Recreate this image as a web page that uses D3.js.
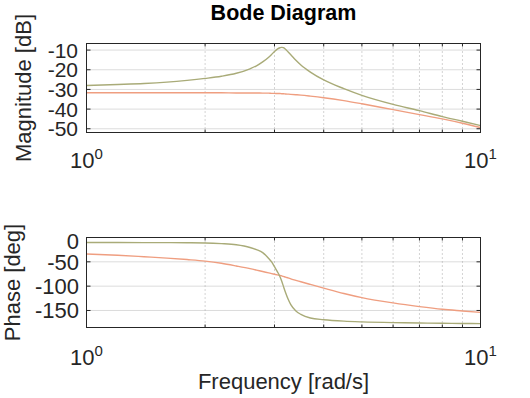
<!DOCTYPE html>
<html>
<head>
<meta charset="utf-8">
<script src="https://cdn.jsdelivr.net/npm/d3@7"></script>
<style>
  body { margin: 0; background: #fff; }
  text { font-family: "Liberation Sans", Arial, sans-serif; fill: #262626; }
</style>
</head>
<body>
<div id="d3-container"></div>
<script>
/**
 * DATA
 * */
const freq = [1, 1.2, 1.4, 1.6, 1.8, 2, 2.2, 2.4, 2.6, 2.7, 2.8, 2.9, 2.95, 3.0, 3.05, 3.1,
  3.13, 3.16, 3.2, 3.25, 3.3, 3.4, 3.5, 3.7, 4, 4.5, 5, 6, 7, 8, 9, 10];

// olive curve (resonant system)
const magOlive = [-28.0, -27.5, -27.0, -26.3, -25.4, -24.4, -23.3, -21.8, -19.5, -18.0, -16.0,
  -13.6, -12.2, -10.7, -9.5, -8.8, -8.6, -8.8, -9.6, -11.0, -12.4, -15.2, -17.6, -21.2, -25.2,
  -29.6, -33.0, -37.6, -40.8, -43.8, -46.2, -48.4];
const phaseOlive = [-10.3, -10.4, -10.5, -10.6, -10.8, -11.2, -12.6, -15.0, -20.5, -25.0, -31.0,
  -43, -50, -60, -70, -81, -90, -100, -113, -127, -138, -151, -158, -165.5, -169, -172, -173.5,
  -175, -175.7, -176.3, -176.7, -177];

// orange curve (damped system)
const magOrange = [-31.7, -31.7, -31.7, -31.7, -31.7, -31.7, -31.7, -31.8, -31.8, -31.8, -31.9,
  -31.9, -32.0, -32.0, -32.1, -32.1, -32.2, -32.2, -32.3, -32.4, -32.5, -32.7, -32.9, -33.4, -34.2,
  -35.7, -37.3, -40.3, -42.8, -45.0, -47.2, -49.4];
const phaseOrange = [-34, -36.5, -39.5, -42.3, -45.3, -48.5, -53, -58.5, -64, -67, -70, -72.8,
  -74.2, -75.5, -76.8, -78, -79, -80, -81.5, -83, -85, -88, -91, -96.5, -104, -115, -123.5,
  -134.5, -142, -147.5, -151, -154];

const magTicks = [-50, -40, -30, -20, -10];
const phaseTicks = [-150, -100, -50, 0];
const decadeTicks = [1, 10];
const minorTicks = [2, 3, 4, 5, 6, 7, 8, 9];

/**
 * CONSTANTS
 * */
const width = 530,
  height = 398,
  plotLeft = 86.5,
  plotRight = 480.5;

const colors = { olive: "#a9ab78", orange: "#ef9e80", axis: "#262626", grid: "#dcdcdc", minor: "#a8a8a8" };

const panels = [
  { top: 43.5, bottom: 132.5, domain: [-51.9, -6.65], ticks: magTicks, label: "Magnitude [dB]",
    labelX: 31, tickRight: 78, tickFont: 21, decadeY: 168, series: [magOrange, magOlive] },
  { top: 237.5, bottom: 327.5, domain: [-185, 0], ticks: phaseTicks, label: "Phase [deg]",
    labelX: 20, tickRight: 79, tickFont: 22, decadeY: 365, series: [phaseOrange, phaseOlive] },
];
const seriesColors = [colors.orange, colors.olive];

let svg;

init();

function init() {
  svg = d3.select("#d3-container")
    .append("svg")
    .attr("width", width)
    .attr("height", height);

  const x = d3.scaleLog().domain([1, 10]).range([plotLeft, plotRight]);

  panels.forEach(p => drawPanel(p, x));

  // title
  svg.append("text")
    .attr("x", (plotLeft + plotRight) / 2)
    .attr("y", 19.5)
    .attr("text-anchor", "middle")
    .attr("font-size", 21.5)
    .attr("font-weight", "bold")
    .style("fill", "#000")
    .text("Bode Diagram");

  // x label
  svg.append("text")
    .attr("x", (plotLeft + plotRight) / 2)
    .attr("y", 389)
    .attr("text-anchor", "middle")
    .attr("font-size", 22)
    .text("Frequency [rad/s]");
}

function drawPanel(p, x) {
  const y = d3.scaleLinear().domain(p.domain).range([p.bottom, p.top]);
  const g = svg.append("g");

  // horizontal grid (solid)
  g.selectAll("line.hgrid")
    .data(p.ticks.filter(t => Math.abs(y(t) - p.top) > 1 && Math.abs(y(t) - p.bottom) > 1))
    .join("line")
    .attr("class", "hgrid")
    .attr("x1", plotLeft).attr("x2", plotRight)
    .attr("y1", d => y(d)).attr("y2", d => y(d))
    .attr("stroke", colors.grid)
    .attr("stroke-width", 1);

  // vertical minor grid (dotted)
  g.selectAll("line.vgrid")
    .data(minorTicks)
    .join("line")
    .attr("class", "vgrid")
    .attr("x1", d => x(d)).attr("x2", d => x(d))
    .attr("y1", p.top).attr("y2", p.bottom)
    .attr("stroke", colors.minor)
    .attr("stroke-width", 1)
    .attr("stroke-dasharray", "1,3");

  // curves
  const line = d3.line()
    .x((d, i) => x(freq[i]))
    .y(d => y(d))
    .curve(d3.curveMonotoneX);

  g.selectAll("path.curve")
    .data(p.series)
    .join("path")
    .attr("class", "curve")
    .attr("fill", "none")
    .attr("stroke", (d, i) => seriesColors[i])
    .attr("stroke-width", 1.4)
    .attr("d", line);

  // y ticks, inward on both sides
  [plotLeft, plotRight].forEach((x0, k) => {
    const dir = k === 0 ? 1 : -1;
    g.selectAll(null)
      .data(p.ticks)
      .join("line")
      .attr("x1", x0).attr("x2", x0 + dir * 4)
      .attr("y1", d => y(d)).attr("y2", d => y(d))
      .attr("stroke", colors.axis);
  });

  // x minor ticks, inward top and bottom
  [p.top, p.bottom].forEach((y0, k) => {
    const dir = k === 0 ? 1 : -1;
    g.selectAll(null)
      .data(minorTicks)
      .join("line")
      .attr("x1", d => x(d)).attr("x2", d => x(d))
      .attr("y1", y0).attr("y2", y0 + dir * 3)
      .attr("stroke", colors.axis);
  });

  // box
  g.append("rect")
    .attr("x", plotLeft).attr("y", p.top)
    .attr("width", plotRight - plotLeft)
    .attr("height", p.bottom - p.top)
    .attr("fill", "none")
    .attr("stroke", colors.axis)
    .attr("stroke-width", 1);

  // y tick labels
  g.selectAll("text.ytick")
    .data(p.ticks)
    .join("text")
    .attr("class", "ytick")
    .attr("x", p.tickRight)
    .attr("y", d => Math.max(y(d), p.top + 4))
    .attr("text-anchor", "end")
    .attr("dy", "0.36em")
    .attr("font-size", p.tickFont)
    .text(d => d);

  // decade labels 10^n
  const dec = g.selectAll("text.xtick")
    .data(decadeTicks)
    .join("text")
    .attr("class", "xtick")
    .attr("x", d => x(d))
    .attr("y", p.decadeY)
    .attr("text-anchor", "middle")
    .attr("font-size", 22);
  dec.append("tspan").text("10");
  dec.append("tspan")
    .attr("dy", -9)
    .attr("font-size", 15)
    .text(d => Math.round(Math.log10(d)));

  // y label
  svg.append("text")
    .attr("transform", `translate(${p.labelX}, ${(p.top + p.bottom) / 2}) rotate(-90)`)
    .attr("text-anchor", "middle")
    .attr("font-size", 22)
    .text(p.label);
}
</script>
</body>
</html>
